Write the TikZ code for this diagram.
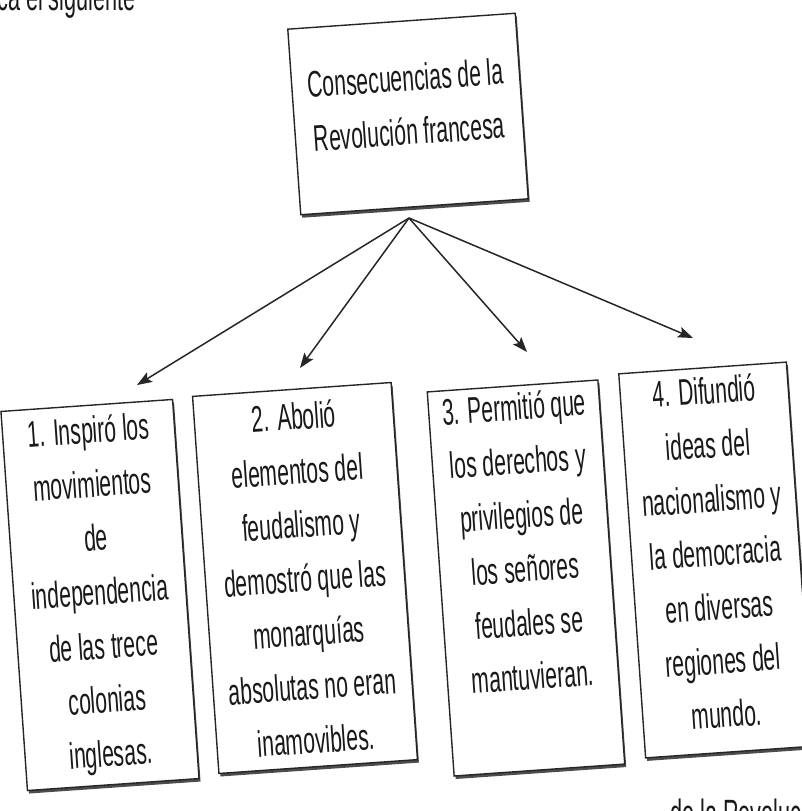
\documentclass[tikz,border=0pt]{standalone}
\usepackage{fontspec}
\setmainfont{Liberation Sans}[FakeStretch=0.57]
\usetikzlibrary{positioning,calc,arrows.meta,shadows}

\tikzset{
  caja/.style={draw=black!85, line width=1.4pt, fill=white, rotate=4,
    drop shadow={shadow xshift=1.5pt, shadow yshift=-3pt, fill=black!70, opacity=1}},
  texto/.style={align=center, rotate=4, text=black!90, font=\fontsize{37}{54}\selectfont},
  borde/.style={text=black!90, font=\fontsize{38}{44}\selectfont},
  flecha/.style={draw=black!85, line width=1.5pt, -{Stealth[length=15pt,width=11pt,inset=3pt]}},
}

\begin{document}
\begin{tikzpicture}[x=1pt,y=-1pt]
\useasboundingbox (0,0) rectangle (802,811);
\clip (0,0) rectangle (802,811);

% texto cortado del libro
\node[borde, anchor=base west, inner sep=0pt] (arriba) at (-3,10) {ca el siguiente};
\node[borde, anchor=base west, inner sep=0pt] (abajo) at (670,826) {de la Revolución};

% cuadro principal
\node[caja, minimum width=228pt, minimum height=186pt] (raiz) at (408,114) {};
\node[texto] (traiz) at ($(raiz.center)!0.1!(raiz.north)$) {Consecuencias de la\\Revolución francesa};

% consecuencias
\node[caja, minimum width=172pt, minimum height=380pt] (c1) at (100,595) {};
\node[caja, minimum width=199pt, minimum height=378pt] (c2) at (305,578) {};
\node[caja, minimum width=171pt, minimum height=385pt] (c3) at (526,578) {};
\node[caja, minimum width=168pt, minimum height=385pt] (c4) at (716,560) {};

\node[texto] (t1) at (c1.center) {1. Inspiró los\\movimientos\\de\\independencia\\de las trece\\colonias\\inglesas.};
\node[texto] (t2) at (c2.center) {2. Abolió\\elementos del\\feudalismo y\\demostró que las\\monarquías\\absolutas no eran\\inamovibles.};
\node[texto] (t3) at ($(c3.center)!0.19!(c3.north)$) {3. Permitió que\\los derechos y\\privilegios de\\los señores\\feudales se\\mantuvieran.};
\node[texto] (t4) at ($(c4.center)!0.04!(c4.north)$) {4. Difundió\\ideas del\\nacionalismo y\\la democracia\\en diversas\\regiones del\\mundo.};

% flechas
\coordinate (ap) at (409,218);
\coordinate (f1) at (137,385);
\coordinate (f2) at (300,368);
\coordinate (f3) at (527,352);
\coordinate (f4) at (693,338);
\foreach \f in {f1,f2,f3,f4}
  \draw[flecha] (ap) -- (\f);
\end{tikzpicture}
\end{document}
